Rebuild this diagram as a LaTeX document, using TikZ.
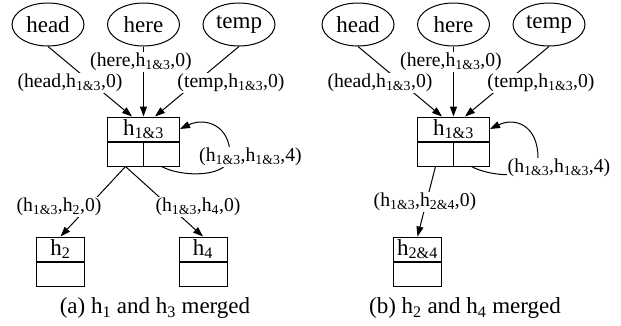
\documentclass[tikz,border=0pt]{standalone}
\usepackage{fontspec}
\setmainfont{Liberation Serif}
\usetikzlibrary{shapes.geometric, arrows.meta, positioning}

\newcommand{\hsub}[1]{h\textsubscript{#1}}

\begin{document}
\begin{tikzpicture}[x=1pt, y=-1pt, line width=1pt,
    >={Triangle[length=10pt,width=7pt]},
    var/.style={draw, ellipse, minimum width=72pt, minimum height=43pt,
        inner sep=0pt, font=\fontsize{23}{27}\selectfont},
    cell/.style={draw, rectangle, minimum height=24pt, inner sep=0pt,
        font=\fontsize{23}{27}\selectfont},
    lbl/.style={fill=white, inner sep=1pt, font=\fontsize{19.7}{23}\selectfont},
    subcap/.style={font=\fontsize{23}{27}\selectfont}]
    \useasboundingbox (0,0) rectangle (621,325);

    % (a) h1 and h3 merged
    \node[var] (headA) at (48,24.5) {head};
    \node[var] (hereA) at (143.5,24.5) {here};
    \node[var] (tempA) at (239,24.5) {temp};

    \node[cell, minimum width=72pt] (hA) at (143.5,129) {\hsub{1\&3}};
    \node[cell, minimum width=36pt, anchor=north west] (hAl) at (hA.south west) {};
    \node[cell, minimum width=36pt, anchor=north east] (hAr) at (hA.south east) {};

    \node[cell, minimum width=48pt] (htwo) at (60.5,249) {\hsub{2}};
    \node[cell, minimum width=48pt, anchor=north] (htwoB) at (htwo.south) {};
    \node[cell, minimum width=48pt] (hfour) at (203,249) {\hsub{4}};
    \node[cell, minimum width=48pt, anchor=north] (hfourB) at (hfour.south) {};

    \coordinate (loopA) at (230,155);

    \draw[->] (headA.south) -- ([xshift=-11.5pt]hA.north);
    \draw[->] (hereA.south) -- (hA.north);
    \draw[->] (tempA.south) -- ([xshift=11.5pt]hA.north);
    \draw[->] (hAr.south) .. controls +(20,11) and +(0,23) .. (loopA)
        .. controls +(0,-30) and +(25,-12) .. (hA.east);
    \draw[->] (hAl.south) -- (htwo.north);
    \draw[->] (hAl.south) -- (hfour.north);

    \node[lbl] (lHeadA) at (70,83) {(head,\hsub{1\&3},0)};
    \node[lbl] (lHereA) at (141,62) {(here,\hsub{1\&3},0)};
    \node[lbl] (lTempA) at (231,83) {(temp,\hsub{1\&3},0)};
    \node[lbl] (lLoopA) at (250.5,157) {(\hsub{1\&3},\hsub{1\&3},4)};
    \node[lbl] (lTwoA) at (59,207) {(\hsub{1\&3},\hsub{2},0)};
    \node[lbl] (lFourA) at (198,207) {(\hsub{1\&3},\hsub{4},0)};

    \node[subcap] (capA) at (155,308) {(a) \hsub{1} and \hsub{3} merged};

    % (b) h2 and h4 merged
    \node[var] (headB) at (358,24.5) {head};
    \node[var] (hereB) at (453.5,24.5) {here};
    \node[var] (tempB) at (549,24.5) {temp};

    \node[cell, minimum width=72pt] (hB) at (453.5,129) {\hsub{1\&3}};
    \node[cell, minimum width=36pt, anchor=north west] (hBl) at (hB.south west) {};
    \node[cell, minimum width=36pt, anchor=north east] (hBr) at (hB.south east) {};

    \node[cell, minimum width=48pt] (htwofour) at (417.5,249) {\hsub{2\&4}};
    \node[cell, minimum width=48pt, anchor=north] (htwofourB) at (htwofour.south) {};

    \coordinate (loopB) at (538,158);

    \draw[->] (headB.south) -- ([xshift=-11.5pt]hB.north);
    \draw[->] (hereB.south) -- (hB.north);
    \draw[->] (tempB.south) -- ([xshift=11.5pt]hB.north);
    \draw[->] (hBr.south) .. controls +(20,11) and +(0,22) .. (loopB)
        .. controls +(0,-33) and +(25,-12) .. (hB.east);
    \draw[->] (hBl.south) -- (htwofour.north);

    \node[lbl] (lHeadB) at (380,83) {(head,\hsub{1\&3},0)};
    \node[lbl] (lHereB) at (451,62) {(here,\hsub{1\&3},0)};
    \node[lbl] (lTempB) at (541,83) {(temp,\hsub{1\&3},0)};
    \node[lbl] (lLoopB) at (559,168) {(\hsub{1\&3},\hsub{1\&3},4)};
    \node[lbl] (lTwoFourB) at (425,202) {(\hsub{1\&3},\hsub{2\&4},0)};

    \node[subcap] (capB) at (465,308) {(b) \hsub{2} and \hsub{4} merged};
\end{tikzpicture}
\end{document}
